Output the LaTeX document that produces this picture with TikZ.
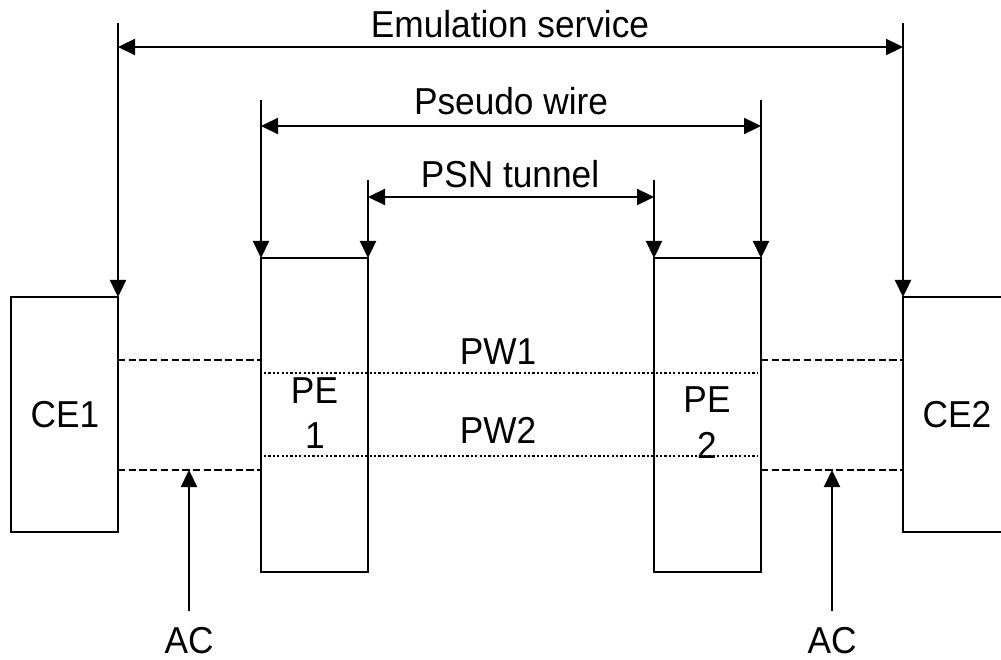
\documentclass[tikz,border=0pt]{standalone}
\usepackage{fontspec}
\setmainfont{Liberation Sans}[FakeStretch=0.94]
\usetikzlibrary{arrows.meta}
\tikzset{
  box/.style={draw, line width=2.3pt, inner sep=0pt, outer sep=0pt, minimum width=107pt},
  lbl/.style={inner sep=0pt, anchor=base, font=\fontsize{37.5}{42}\selectfont},
  conn/.style={line width=2.3pt},
  tip/.style={-{Triangle[length=17pt,width=16pt]}},
  tips/.style={{Triangle[length=17pt,width=16pt]}-{Triangle[length=17pt,width=16pt]}},
  acdash/.style={line width=2.3pt, dash pattern=on 7.3pt off 3.4pt},
  pwdot/.style={line width=2.2pt, dash pattern=on 2.2pt off 2.2pt}
}
\begin{document}
\begin{tikzpicture}[x=1pt,y=-1pt]
\useasboundingbox (0,0) rectangle (1001,660);
\clip (0,0) rectangle (1001,660);
% boxes
\node[box, minimum height=235pt] (CE1) at (64.5,414.5) {};
\node[box, minimum height=235pt] (CE2) at (956.5,414.5) {};
\node[box, minimum height=314pt] (PE1) at (314.5,415) {};
\node[box, minimum height=314pt] (PE2) at (707.5,415) {};
% texts
\node[lbl] (tES) at (510,38) {Emulation service};
\node[lbl] (tPW) at (511,115) {Pseudo wire};
\node[lbl] (tPSN) at (510,188) {PSN tunnel};
\node[lbl] (tCE1) at (65,427) {CE1};
\node[lbl] (tCE2) at (957,427) {CE2};
\node[lbl] (tPE1a) at (314.5,403) {PE};
\node[lbl] (tPE1b) at (315,448) {1};
\node[lbl] (tPE2a) at (707,412) {PE};
\node[lbl] (tPE2b) at (707,458) {2};
\node[lbl] (tPW1) at (498,364) {PW1};
\node[lbl] (tPW2) at (498,443) {PW2};
\node[lbl] (tAC1) at (189,653) {AC};
\node[lbl] (tAC2) at (832,653) {AC};
% coordinates
\coordinate (esL) at (CE1.north east |- 0,23);
\coordinate (esR) at (CE2.north west |- 0,23);
\coordinate (esHL) at (CE1.north east |- 0,47);
\coordinate (esHR) at (CE2.north west |- 0,47);
\coordinate (pwL) at (PE1.north west |- 0,100);
\coordinate (pwR) at (PE2.north east |- 0,100);
\coordinate (pwHL) at (PE1.north west |- 0,126);
\coordinate (pwHR) at (PE2.north east |- 0,126);
\coordinate (psL) at (PE1.north east |- 0,180);
\coordinate (psR) at (PE2.north west |- 0,180);
\coordinate (psHL) at (PE1.north east |- 0,197);
\coordinate (psHR) at (PE2.north west |- 0,197);
\coordinate (ac1a) at (189,611);
\coordinate (ac1b) at (189,470);
\coordinate (ac2a) at (832,611);
\coordinate (ac2b) at (832,470);
% span markers
\draw[conn, tip] (esL) -- (CE1.north east);
\draw[conn, tip] (esR) -- (CE2.north west);
\draw[conn, tips] (esHL) -- (esHR);
\draw[conn, tip] (pwL) -- (PE1.north west);
\draw[conn, tip] (pwR) -- (PE2.north east);
\draw[conn, tips] (pwHL) -- (pwHR);
\draw[conn, tip] (psL) -- (PE1.north east);
\draw[conn, tip] (psR) -- (PE2.north west);
\draw[conn, tips] (psHL) -- (psHR);
% attachment circuits
\draw[acdash] (CE1.east |- 0,360) -- (PE1.west |- 0,360);
\draw[acdash] (CE1.east |- 0,470) -- (PE1.west |- 0,470);
\draw[acdash] (PE2.east |- 0,360) -- (CE2.west |- 0,360);
\draw[acdash] (PE2.east |- 0,470) -- (CE2.west |- 0,470);
% pseudo wires
\draw[pwdot] ([xshift=3pt]PE1.west |- 0,373) -- ([xshift=-3pt]PE2.east |- 0,373);
\draw[pwdot] ([xshift=3pt]PE1.west |- 0,456) -- ([xshift=-3pt]PE2.east |- 0,456);
% AC arrows
\draw[conn, tip] (ac1a) -- (ac1b);
\draw[conn, tip] (ac2a) -- (ac2b);
\end{tikzpicture}
\end{document}
